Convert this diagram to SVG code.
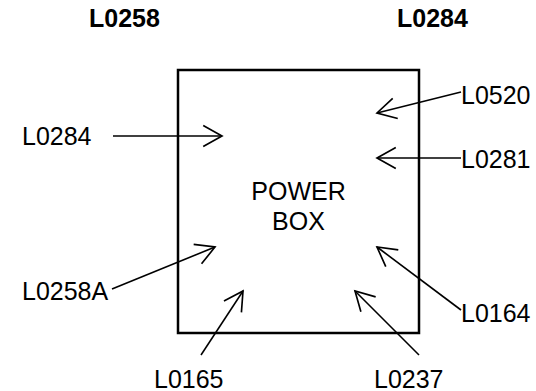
<svg xmlns="http://www.w3.org/2000/svg" width="536" height="391" viewBox="0 0 536 391">
<defs>
<style>
text{font-family:"Liberation Sans",Arial,sans-serif;font-size:25px;fill:#000}
.b{font-weight:bold}
.c{stroke:#000;stroke-width:1.6;fill:none;marker-end:url(#ah)}
</style>
<marker id="ah" markerUnits="userSpaceOnUse" markerWidth="22" markerHeight="24" viewBox="-1 -1 21 23" refX="18" refY="10" orient="auto" overflow="visible">
<path d="M0,0 L18,10 L0,20" fill="none" stroke="#000" stroke-width="1.6"/>
</marker>
</defs>
<rect width="536" height="391" fill="#fff"/>
<g id="title-l0258"><text class="b" x="89" y="27">L0258</text></g>
<g id="title-l0284"><text class="b" x="397" y="27">L0284</text></g>
<g id="power-box">
<rect x="178" y="70" width="241" height="263" fill="none" stroke="#000" stroke-width="2.5"/>
<text x="298.5" y="200" text-anchor="middle">POWER</text>
<text x="298.5" y="230" text-anchor="middle">BOX</text>
</g>
<g id="l0284"><text x="22" y="145">L0284</text></g>
<g id="l0520"><text x="461" y="104">L0520</text></g>
<g id="l0281"><text x="461" y="168">L0281</text></g>
<g id="l0258a"><text x="22" y="300">L0258A</text></g>
<g id="l0164"><text x="461" y="322">L0164</text></g>
<g id="l0165"><text x="154" y="388">L0165</text></g>
<g id="l0237"><text x="374" y="388">L0237</text></g>
<g id="connectors">
<line class="c" x1="113" y1="136" x2="222" y2="136"/>
<line class="c" x1="461" y1="92" x2="377" y2="113"/>
<line class="c" x1="461" y1="158" x2="377" y2="158"/>
<line class="c" x1="112" y1="289" x2="215" y2="247"/>
<line class="c" x1="461" y1="310" x2="377" y2="247"/>
<line class="c" x1="201" y1="355" x2="243" y2="291"/>
<line class="c" x1="419" y1="355" x2="355" y2="291"/>
</g>
</svg>
